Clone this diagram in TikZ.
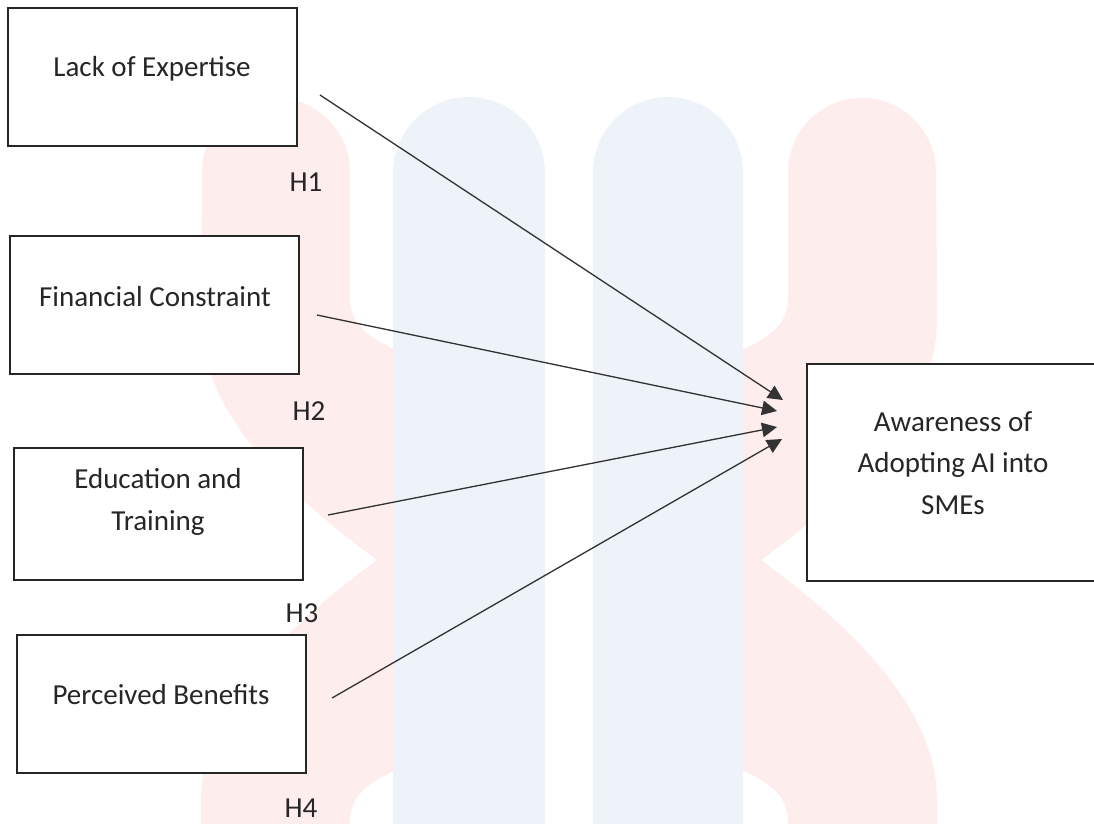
\documentclass[tikz,border=0pt]{standalone}
\usepackage{fontspec}
\setmainfont{Carlito}
\usetikzlibrary{arrows.meta}

\definecolor{marcaazul}{RGB}{237,243,248}
\definecolor{marcaroja}{RGB}{253,237,237}

\begin{document}
\begin{tikzpicture}
  [x=0.02cm,y=-0.02cm,
   caja/.style={draw=black!85,fill=white,line width=1.1pt,minimum width=5.78cm,minimum height=2.76cm,inner sep=0pt},
   texto/.style={align=center,font=\fontsize{16.5}{23.5}\selectfont,text=black!85,inner sep=0pt},
   flecha/.style={draw=black!80,line width=0.75pt,-{Triangle[length=0.3cm,width=0.29cm]}}]
  \clip (0,0) rectangle (1094,823);
  \fill[white] (0,0) rectangle (1094,823);

  %Marca de agua
  \fill[marcaroja] (202,172) arc[start angle=180,end angle=360,radius=74]
    -- (350,300) .. controls (350,360) and (470,360) .. (569,420)
    -- (746,549) .. controls (836,614) and (937,700) .. (937,800)
    -- (937,900) -- (788,900) -- (788,820)
    .. controls (788,760) and (668,760) .. (569,700)
    -- (392,571) .. controls (302,506) and (201,420) .. (201,320) -- cycle;
  \fill[marcaroja] (936,172) arc[start angle=0,end angle=-180,radius=74]
    -- (788,300) .. controls (788,360) and (668,360) .. (569,420)
    -- (392,549) .. controls (302,614) and (201,700) .. (201,800)
    -- (201,900) -- (350,900) -- (350,820)
    .. controls (350,760) and (470,760) .. (569,700)
    -- (746,571) .. controls (836,506) and (937,420) .. (937,320) -- cycle;
  \fill[white] (394,300) rectangle (743,823);
  \draw[marcaazul,line width=3.04cm,line cap=round] (469,173) -- (469,900);
  \draw[marcaazul,line width=3cm,line cap=round] (668,172) -- (668,900);

  \node[caja] (lack) at (152.5,77) {};
  \node[caja] (fin) at (154.5,305) {};
  \node[caja,minimum height=2.64cm] (edu) at (158.5,514) {};
  \node[caja] (ben) at (161.5,704) {};
  \node[caja,minimum width=5.86cm,minimum height=4.34cm] (aware) at (953.5,472.5) {};

  \node[texto] (lack-t) at (152,69) {Lack of Expertise};
  \node[texto] (fin-t) at (155,297) {Financial Constraint};
  \node[texto] (edu-t) at (158,502) {Education and\\Training};
  \node[texto] (ben-t) at (161,695) {Perceived Benefits};
  \node[texto] (aware-t) at (953,463) {Awareness of\\Adopting AI into\\SMEs};

  \node[texto] (h1) at (306,182) {H1};
  \node[texto] (h2) at (309,411) {H2};
  \node[texto] (h3) at (302,613) {H3};
  \node[texto] (h4) at (301,808) {H4};

  \coordinate (p1) at (320,95);
  \coordinate (p2) at (317,315);
  \coordinate (p3) at (328,515);
  \coordinate (p4) at (332,698);
  \coordinate (q1) at (783,400);
  \coordinate (q2) at (777,411);
  \coordinate (q3) at (777,427);
  \coordinate (q4) at (782,439);

  \foreach \from/\to in {p1/q1, p2/q2, p3/q3, p4/q4}
    \draw[flecha] (\from) -- (\to);
\end{tikzpicture}
\end{document}
